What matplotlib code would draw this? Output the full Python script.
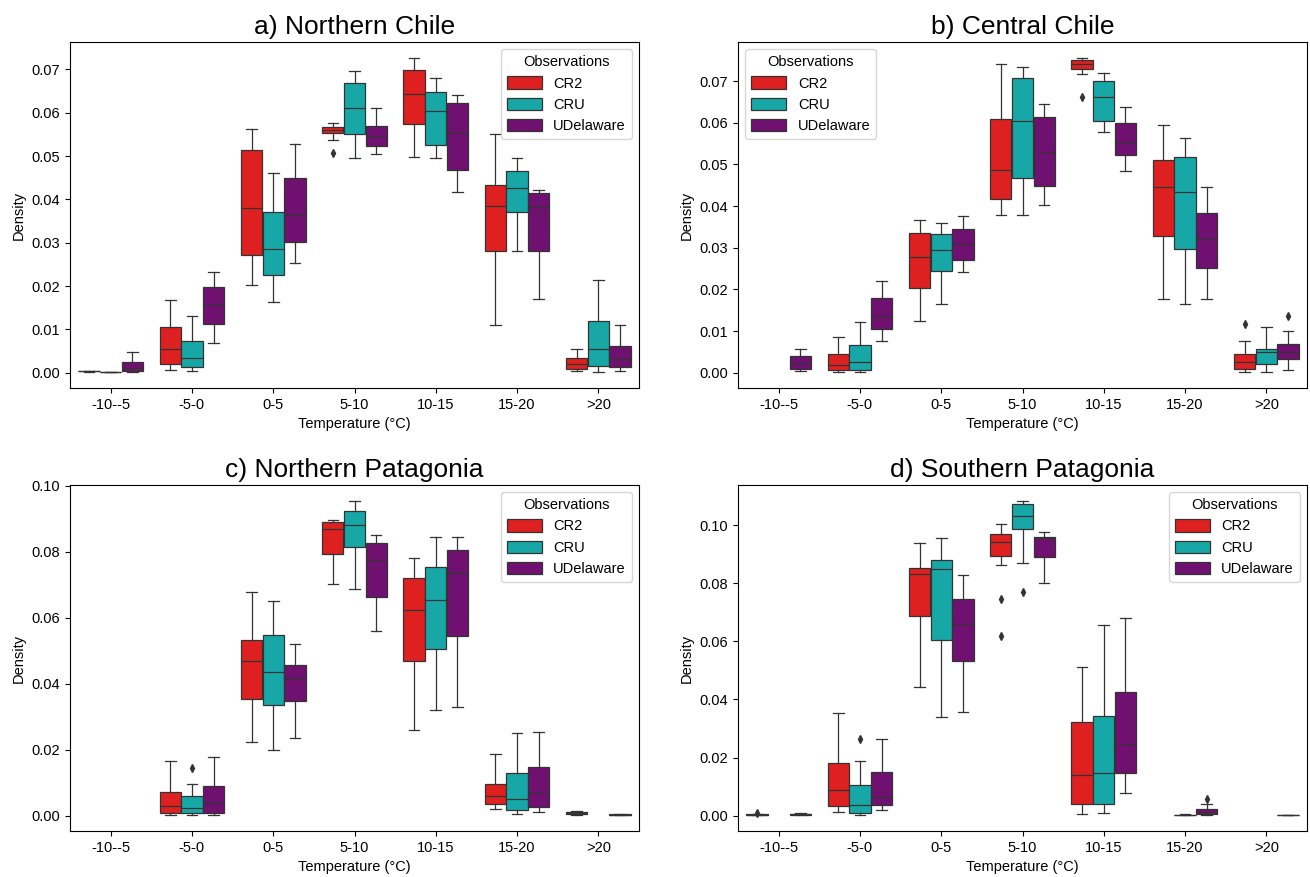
import matplotlib
matplotlib.use('Agg')
import matplotlib.pyplot as plt
from matplotlib.patches import Patch

plt.rcParams['font.family'] = ['Liberation Sans', 'DejaVu Sans']

CATEGORIES = ['-10--5', '-5-0', '0-5', '5-10', '10-15', '15-20', '>20']
SERIES = ['CR2', 'CRU', 'UDelaware']
COLORS = ['#df2020', '#18a7a7', '#701070']
TITLES = ['a) Northern Chile', 'b) Central Chile',
          'c) Northern Patagonia', 'd) Southern Patagonia']

# box summaries per temperature bin: (whislo, q1, median, q3, whishi), None = no data
A_CR2 = [(0.0002, 0.0003, 0.0003, 0.0003, 0.0004),
         (0.0006, 0.0021, 0.0054, 0.0105, 0.0168),
         (0.0203, 0.0272, 0.0381, 0.0514, 0.0563),
         (0.0538, 0.0554, 0.0561, 0.0567, 0.0577),
         (0.0497, 0.0573, 0.0644, 0.0699, 0.0727),
         (0.0109, 0.0281, 0.0385, 0.0433, 0.0550),
         (0.0005, 0.0009, 0.0021, 0.0035, 0.0055)]
A_CRU = [(0.0001, 0.0002, 0.0002, 0.0002, 0.0002),
         (0.0005, 0.0013, 0.0035, 0.0074, 0.0130),
         (0.0163, 0.0226, 0.0285, 0.0370, 0.0460),
         (0.0495, 0.0551, 0.0610, 0.0669, 0.0697),
         (0.0495, 0.0526, 0.0605, 0.0649, 0.0680),
         (0.0281, 0.0370, 0.0426, 0.0465, 0.0495),
         (0.0002, 0.0015, 0.0055, 0.0120, 0.0215)]
A_UDEL = [(0.0002, 0.0004, 0.0011, 0.0025, 0.0048),
          (0.0069, 0.0112, 0.0156, 0.0197, 0.0232),
          (0.0254, 0.0301, 0.0364, 0.0449, 0.0528),
          (0.0504, 0.0524, 0.0546, 0.0569, 0.0612),
          (0.0417, 0.0468, 0.0554, 0.0623, 0.0640),
          (0.0169, 0.0282, 0.0382, 0.0415, 0.0422),
          (0.0004, 0.0014, 0.0032, 0.0062, 0.0110)]
A_CR2_FLIERS = [[], [], [], [0.0508], [], [], []]
A_CRU_FLIERS = [[], [], [], [], [], [], []]
A_UDEL_FLIERS = [[], [], [], [], [], [], []]

B_CR2 = [None,
         (0.0001, 0.0006, 0.0018, 0.0044, 0.0086),
         (0.0125, 0.0204, 0.0277, 0.0336, 0.0366),
         (0.0378, 0.0418, 0.0487, 0.0609, 0.0741),
         (0.0718, 0.0730, 0.0742, 0.0750, 0.0756),
         (0.0178, 0.0328, 0.0445, 0.0511, 0.0594),
         (0.0001, 0.0008, 0.0025, 0.0046, 0.0076)]
B_CRU = [None,
         (0.0001, 0.0006, 0.0026, 0.0066, 0.0122),
         (0.0165, 0.0244, 0.0295, 0.0334, 0.0359),
         (0.0378, 0.0468, 0.0603, 0.0707, 0.0734),
         (0.0578, 0.0605, 0.0661, 0.0700, 0.0719),
         (0.0166, 0.0298, 0.0433, 0.0518, 0.0563),
         (0.0002, 0.0022, 0.0049, 0.0058, 0.0109)]
B_UDEL = [(0.0004, 0.0010, 0.0024, 0.0040, 0.0058),
          (0.0077, 0.0104, 0.0137, 0.0180, 0.0220),
          (0.0241, 0.0270, 0.0308, 0.0344, 0.0376),
          (0.0402, 0.0448, 0.0530, 0.0614, 0.0646),
          (0.0483, 0.0522, 0.0554, 0.0599, 0.0638),
          (0.0178, 0.0252, 0.0320, 0.0384, 0.0446),
          (0.0006, 0.0033, 0.0050, 0.0070, 0.0101)]
B_CR2_FLIERS = [[], [], [], [], [0.0662], [], [0.0117]]
B_CRU_FLIERS = [[], [], [], [], [], [], []]
B_UDEL_FLIERS = [[], [], [], [], [], [], [0.0136]]

C_CR2 = [None,
         (0.0002, 0.0009, 0.0029, 0.0073, 0.0167),
         (0.0223, 0.0355, 0.0469, 0.0534, 0.0677),
         (0.0701, 0.0794, 0.0868, 0.0890, 0.0896),
         (0.0261, 0.0469, 0.0625, 0.0722, 0.0781),
         (0.0020, 0.0034, 0.0058, 0.0097, 0.0186),
         (0.0002, 0.0004, 0.0008, 0.0012, 0.0015)]
C_CRU = [None,
         (0.0002, 0.0007, 0.0022, 0.0060, 0.0095),
         (0.0199, 0.0334, 0.0436, 0.0547, 0.0651),
         (0.0687, 0.0816, 0.0880, 0.0924, 0.0955),
         (0.0321, 0.0506, 0.0655, 0.0754, 0.0845),
         (0.0005, 0.0016, 0.0049, 0.0128, 0.0251),
         None]
C_UDEL = [None,
          (0.0002, 0.0009, 0.0037, 0.0091, 0.0179),
          (0.0235, 0.0349, 0.0417, 0.0458, 0.0519),
          (0.0561, 0.0662, 0.0776, 0.0826, 0.0850),
          (0.0329, 0.0546, 0.0737, 0.0806, 0.0845),
          (0.0010, 0.0025, 0.0068, 0.0148, 0.0254),
          (0.0001, 0.0002, 0.0003, 0.0004, 0.0005)]
C_CR2_FLIERS = [[], [], [], [], [], [], []]
C_CRU_FLIERS = [[], [0.0143], [], [], [], [], []]
C_UDEL_FLIERS = [[], [], [], [], [], [], []]

D_CR2 = [(0.0001, 0.0002, 0.0003, 0.0004, 0.0005),
         (0.0011, 0.0033, 0.0088, 0.0180, 0.0352),
         (0.0444, 0.0689, 0.0831, 0.0852, 0.0940),
         (0.0862, 0.0896, 0.0944, 0.0972, 0.1005),
         (0.0007, 0.0039, 0.0141, 0.0323, 0.0513),
         None,
         None]
D_CRU = [None,
         (0.0002, 0.0008, 0.0036, 0.0106, 0.0189),
         (0.0341, 0.0604, 0.0851, 0.0882, 0.0958),
         (0.0870, 0.0986, 0.1034, 0.1072, 0.1085),
         (0.0008, 0.0041, 0.0146, 0.0344, 0.0657),
         (0.0001, 0.0002, 0.0003, 0.0003, 0.0004),
         None]
D_UDEL = [(0.0002, 0.0003, 0.0005, 0.0007, 0.0009),
          (0.0020, 0.0037, 0.0063, 0.0149, 0.0265),
          (0.0356, 0.0534, 0.0659, 0.0745, 0.0828),
          (0.0803, 0.0892, 0.0958, 0.0959, 0.0978),
          (0.0079, 0.0145, 0.0246, 0.0425, 0.0681),
          (0.0002, 0.0006, 0.0014, 0.0023, 0.0039),
          (0.0001, 0.0002, 0.0002, 0.0002, 0.0003)]
D_CR2_FLIERS = [[0.0008], [], [], [0.0745, 0.0618], [], [], []]
D_CRU_FLIERS = [[], [0.0265], [], [0.0769], [], [], []]
D_UDEL_FLIERS = [[], [], [], [], [], [0.0056], []]

PANELS = [
    ([A_CR2, A_CRU, A_UDEL], [A_CR2_FLIERS, A_CRU_FLIERS, A_UDEL_FLIERS]),
    ([B_CR2, B_CRU, B_UDEL], [B_CR2_FLIERS, B_CRU_FLIERS, B_UDEL_FLIERS]),
    ([C_CR2, C_CRU, C_UDEL], [C_CR2_FLIERS, C_CRU_FLIERS, C_UDEL_FLIERS]),
    ([D_CR2, D_CRU, D_UDEL], [D_CR2_FLIERS, D_CRU_FLIERS, D_UDEL_FLIERS]),
]
LEGEND_LOC = ['upper right', 'upper left', 'upper right', 'upper right']

GRAY = '#333333'
LW = 0.9


def draw_panel(ax, boxes, fliers, title, legend_loc):
    n = len(SERIES)
    width = 0.8 / n
    for j, (series_boxes, series_fliers) in enumerate(zip(boxes, fliers)):
        offset = -0.4 + width * (j + 0.5)
        stats, positions = [], []
        for i, b in enumerate(series_boxes):
            if b is None:
                continue
            lo, q1, med, q3, hi = b
            stats.append(dict(whislo=lo, q1=q1, med=med, q3=q3, whishi=hi,
                              fliers=series_fliers[i]))
            positions.append(i + offset)
        ax.bxp(stats, positions=positions, widths=width * 0.98,
               patch_artist=True, manage_ticks=False,
               boxprops=dict(facecolor=COLORS[j], edgecolor=GRAY, linewidth=LW),
               medianprops=dict(color=GRAY, linewidth=LW),
               whiskerprops=dict(color=GRAY, linewidth=LW),
               capprops=dict(color=GRAY, linewidth=LW),
               flierprops=dict(marker='d', markerfacecolor=GRAY,
                               markeredgecolor=GRAY, markersize=4))

    ax.set_xticks(range(len(CATEGORIES)))
    ax.set_xticklabels(CATEGORIES)
    ax.set_xlim(-0.5, len(CATEGORIES) - 0.5)
    ax.tick_params(labelsize=10.5)
    ax.set_xlabel('Temperature (°C)', fontsize=10.5)
    ax.set_ylabel('Density', fontsize=10.5)
    ax.set_title(title, fontsize=19)

    handles = [Patch(facecolor=c, edgecolor=GRAY, linewidth=LW) for c in COLORS]
    ax.legend(handles, SERIES, title='Observations', loc=legend_loc,
              fontsize=10.5, title_fontsize=10.5, handlelength=2.4,
              handleheight=0.9)


def main():
    fig = plt.figure(figsize=(13.1, 8.77), dpi=100)
    w, h = 569 / 1310, 346 / 877
    rects = [[70 / 1310, 1 - 388 / 877, w, h],
             [738 / 1310, 1 - 388 / 877, w, h],
             [70 / 1310, 1 - 831 / 877, w, h],
             [738 / 1310, 1 - 831 / 877, w, h]]

    for rect, (boxes, fliers), title, loc in zip(rects, PANELS, TITLES, LEGEND_LOC):
        ax = fig.add_axes(rect)
        draw_panel(ax, boxes, fliers, title, loc)

    fig.savefig('out.png', dpi=100)
    plt.close(fig)


if __name__ == '__main__':
    main()
